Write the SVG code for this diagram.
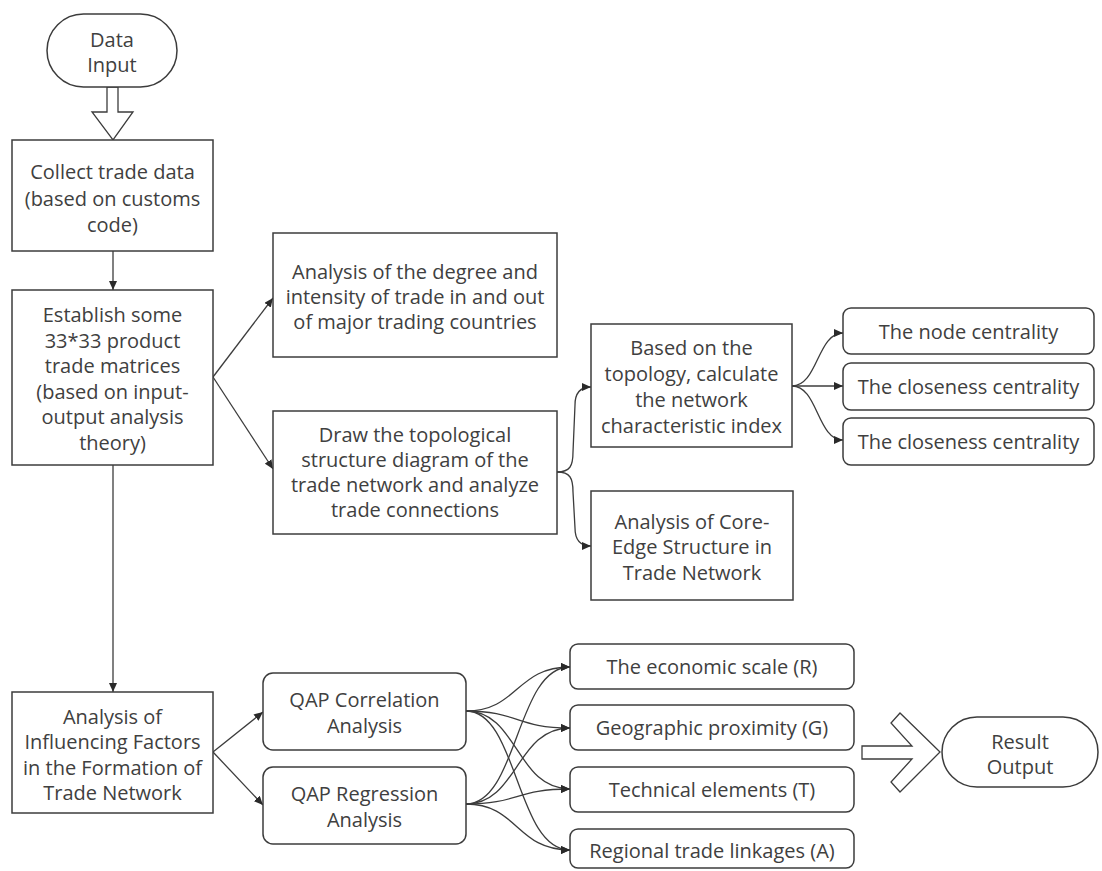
<svg xmlns="http://www.w3.org/2000/svg" width="1102" height="871" viewBox="0 0 1102 871">
<defs>
<style>
.box{fill:#fff;stroke:#3c3c3c;stroke-width:1.5}
.hollow{fill:#fff;stroke:#3c3c3c;stroke-width:1.3}
.t{font-family:"Open Sans","Noto Sans","Liberation Sans",sans-serif;font-size:20px;fill:#404040;text-anchor:middle}
.c{fill:none;stroke:#3c3c3c;stroke-width:1.3;marker-end:url(#ah)}
</style>
<marker id="ah" markerUnits="userSpaceOnUse" markerWidth="9" markerHeight="8" refX="9" refY="4" orient="auto">
<path d="M0,0 L9,4 L0,8 z" fill="#2a2a2a"/>
</marker>
</defs>
<rect width="1102" height="871" fill="#fff"/>

<g id="connectors">
<polygon class="hollow" points="107,87 118,87 118,112 133,112 113,140 92,112 107,112"/>
<line class="c" x1="113" y1="251" x2="113" y2="290"/>
<line class="c" x1="113" y1="465" x2="113" y2="692"/>
<line class="c" x1="213" y1="377" x2="273" y2="298"/>
<line class="c" x1="213" y1="377" x2="273" y2="469"/>
<path class="c" d="M557,472 C570,472 573,466 573,452 L575,405 C575,393 580,387 591,387"/>
<path class="c" d="M557,472 C570,472 573,478 573,492 L575,528 C575,540 580,546 591,546"/>
<path class="c" d="M792,386 C818,386 817,333 843,333"/>
<line class="c" x1="792" y1="386" x2="843" y2="386"/>
<path class="c" d="M792,386 C818,386 817,440 843,440"/>
<line class="c" x1="213" y1="752" x2="263" y2="712"/>
<line class="c" x1="213" y1="752" x2="263" y2="805"/>
<path class="c" d="M466,711 C518,711 516,667 570,667"/>
<path class="c" d="M466,711 C518,711 516,728 570,728"/>
<path class="c" d="M466,711 C518,711 516,789 570,789"/>
<path class="c" d="M466,711 C518,711 516,850 570,850"/>
<path class="c" d="M466,804 C518,804 516,667 570,667"/>
<path class="c" d="M466,804 C518,804 516,728 570,728"/>
<path class="c" d="M466,804 C518,804 516,789 570,789"/>
<path class="c" d="M466,804 C518,804 516,850 570,850"/>
<polygon class="hollow" points="862,746 912,746 891,723 900,713 940,752 900,792 891,782 912,759 862,759"/>
</g>

<g id="data-input">
<rect class="box" x="47" y="14" width="130" height="73" rx="36.5"/>
<text class="t" x="112" y="47">Data</text>
<text class="t" x="112" y="72">Input</text>
</g>

<g id="collect">
<rect class="box" x="12" y="140" width="201" height="111"/>
<text class="t" x="112.5" y="179">Collect trade data</text>
<text class="t" x="112.5" y="205.5">(based on customs</text>
<text class="t" x="112.5" y="232">code)</text>
</g>

<g id="establish">
<rect class="box" x="12" y="290" width="201" height="175"/>
<text class="t" x="112.5" y="322">Establish some</text>
<text class="t" x="112.5" y="347.6">33*33 product</text>
<text class="t" x="112.5" y="373.2">trade matrices</text>
<text class="t" x="112.5" y="398.8">(based on input-</text>
<text class="t" x="112.5" y="424.4">output analysis</text>
<text class="t" x="112.5" y="450">theory)</text>
</g>

<g id="degree">
<rect class="box" x="273" y="233" width="284" height="124"/>
<text class="t" x="415" y="279">Analysis of the degree and</text>
<text class="t" x="415" y="304">intensity of trade in and out</text>
<text class="t" x="415" y="329">of major trading countries</text>
</g>

<g id="topology">
<rect class="box" x="273" y="411" width="284" height="123"/>
<text class="t" x="415" y="442">Draw the topological</text>
<text class="t" x="415" y="467">structure diagram of the</text>
<text class="t" x="415" y="492">trade network and analyze</text>
<text class="t" x="415" y="517">trade connections</text>
</g>

<g id="index">
<rect class="box" x="591" y="324" width="201" height="123"/>
<text class="t" x="691.5" y="355">Based on the</text>
<text class="t" x="691.5" y="381">topology, calculate</text>
<text class="t" x="691.5" y="407">the network</text>
<text class="t" x="691.5" y="433">characteristic index</text>
</g>

<g id="node-centrality">
<rect class="box" x="843" y="308" width="251" height="46" rx="8"/>
<text class="t" x="968.5" y="339">The node centrality</text>
</g>
<g id="closeness-1">
<rect class="box" x="843" y="363" width="251" height="47" rx="8"/>
<text class="t" x="968.5" y="394">The closeness centrality</text>
</g>
<g id="closeness-2">
<rect class="box" x="843" y="418" width="251" height="47" rx="8"/>
<text class="t" x="968.5" y="449">The closeness centrality</text>
</g>

<g id="core-edge">
<rect class="box" x="591" y="491" width="202" height="109"/>
<text class="t" x="692" y="529">Analysis of Core-</text>
<text class="t" x="692" y="554">Edge Structure in</text>
<text class="t" x="692" y="580">Trade Network</text>
</g>

<g id="influencing">
<rect class="box" x="12" y="692" width="201" height="121"/>
<text class="t" x="112.5" y="724">Analysis of</text>
<text class="t" x="112.5" y="749">Influencing Factors</text>
<text class="t" x="112.5" y="774.5">in the Formation of</text>
<text class="t" x="112.5" y="800">Trade Network</text>
</g>

<g id="qap-correlation">
<rect class="box" x="263" y="673" width="203" height="77" rx="10"/>
<text class="t" x="364.5" y="707">QAP Correlation</text>
<text class="t" x="364.5" y="733">Analysis</text>
</g>
<g id="qap-regression">
<rect class="box" x="263" y="767" width="203" height="77" rx="10"/>
<text class="t" x="364.5" y="801">QAP Regression</text>
<text class="t" x="364.5" y="827">Analysis</text>
</g>

<g id="factor-r">
<rect class="box" x="570" y="644" width="284" height="45" rx="8"/>
<text class="t" x="712" y="674">The economic scale (R)</text>
</g>
<g id="factor-g">
<rect class="box" x="570" y="705" width="284" height="45" rx="8"/>
<text class="t" x="712" y="735">Geographic proximity (G)</text>
</g>
<g id="factor-t">
<rect class="box" x="570" y="767" width="284" height="45" rx="8"/>
<text class="t" x="712" y="797">Technical elements (T)</text>
</g>
<g id="factor-a">
<rect class="box" x="570" y="829" width="284" height="39" rx="8"/>
<text class="t" x="712" y="858">Regional trade linkages (A)</text>
</g>

<g id="result-output">
<rect class="box" x="942" y="717" width="156" height="70" rx="35"/>
<text class="t" x="1020" y="749">Result</text>
<text class="t" x="1020" y="774">Output</text>
</g>
</svg>
